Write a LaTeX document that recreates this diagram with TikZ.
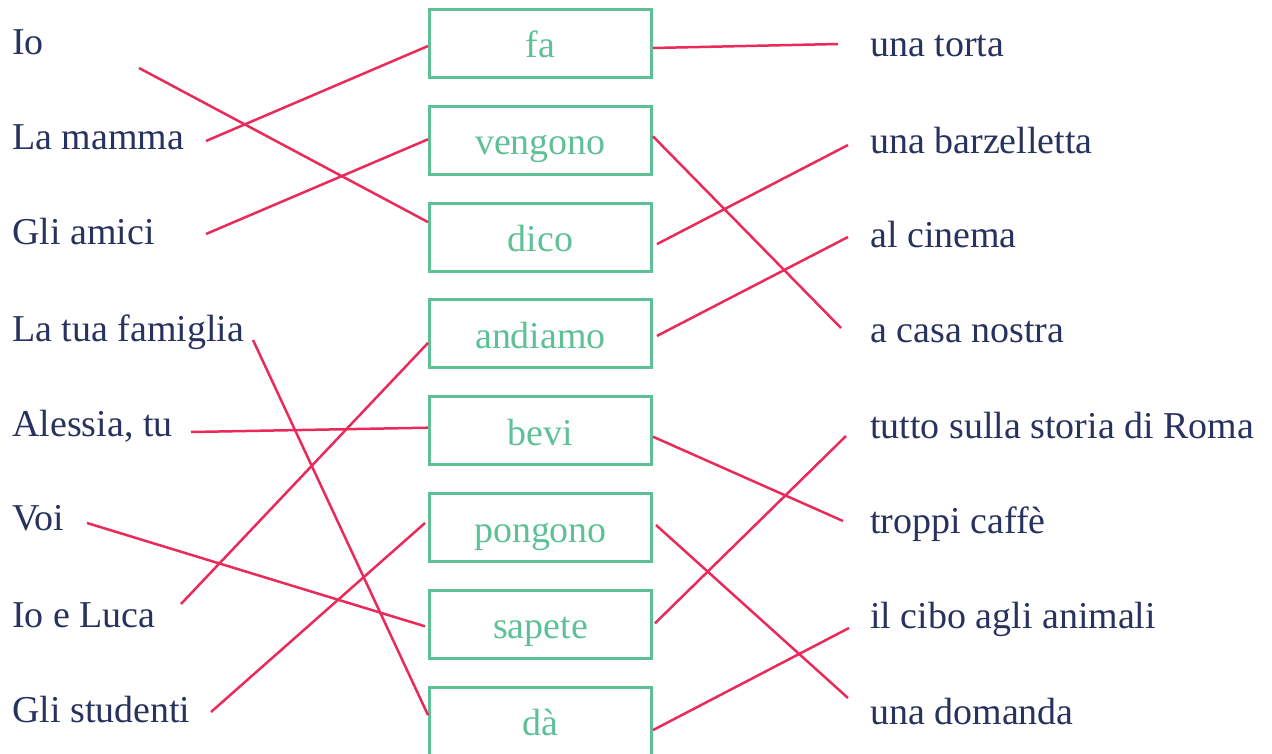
\documentclass[tikz,border=0pt]{standalone}
\usepackage{fontspec}
\setmainfont{Liberation Serif}
\usetikzlibrary{calc}
\definecolor{inkblue}{HTML}{28325F}
\definecolor{verbgreen}{HTML}{5EC196}
\definecolor{linkred}{HTML}{E92A5A}
\tikzset{
  phrase/.style={anchor=base west, inner sep=0pt, text=inkblue,
    font=\fontsize{21.6}{26}\selectfont},
  verbbox/.style={draw=verbgreen, line width=0.06cm, minimum width=4.44cm,
    minimum height=1.36cm, inner sep=0pt, text=verbgreen,
    text height=0.64cm, text depth=0.06cm, font=\fontsize{21.6}{26}\selectfont},
  link/.style={draw=linkred, line width=0.05cm},
}
\begin{document}
\begin{tikzpicture}[x=0.02cm, y=-0.02cm]
  \useasboundingbox (0,0) rectangle (1272,754);
  \clip (0,0) rectangle (1272,754);

  % Subjects
  \node[phrase] (io) at (12,54) {Io};
  \node[phrase] (mamma) at (12,149) {La mamma};
  \node[phrase] (amici) at (12,244) {Gli amici};
  \node[phrase] (famiglia) at (12,341) {La tua famiglia};
  \node[phrase] (alessia) at (12,436) {Alessia, tu};
  \node[phrase] (voi) at (12,530) {Voi};
  \node[phrase] (luca) at (12,627) {Io e Luca};
  \node[phrase] (studenti) at (12,722) {Gli studenti};

  % Verbs
  \node[verbbox] (fa) at (540.5,43.5) {fa};
  \node[verbbox] (vengono) at (540.5,140.3) {vengono};
  \node[verbbox] (dico) at (540.5,237.1) {dico};
  \node[verbbox] (andiamo) at (540.5,333.9) {andiamo};
  \node[verbbox] (bevi) at (540.5,430.7) {bevi};
  \node[verbbox] (pongono) at (540.5,527.5) {pongono};
  \node[verbbox] (sapete) at (540.5,624.3) {sapete};
  \node[verbbox] (da) at (540.5,721.1) {dà};

  % Complements
  \node[phrase] (torta) at (870,56) {una torta};
  \node[phrase] (barzelletta) at (870,153) {una barzelletta};
  \node[phrase] (cinema) at (870,247) {al cinema};
  \node[phrase] (casa) at (870,342) {a casa nostra};
  \node[phrase] (storia) at (870,438) {tutto sulla storia di Roma};
  \node[phrase] (caffe) at (870,533) {troppi caffè};
  \node[phrase] (cibo) at (870,628) {il cibo agli animali};
  \node[phrase] (domanda) at (870,724) {una domanda};

  % Free ends near the phrases
  \coordinate (io-end) at (139,68);
  \coordinate (mamma-end) at (206,141);
  \coordinate (amici-end) at (206,234);
  \coordinate (famiglia-end) at (253,340);
  \coordinate (alessia-end) at (191,432);
  \coordinate (voi-end) at (87,523);
  \coordinate (luca-end) at (181,604);
  \coordinate (studenti-end) at (211,712);
  \coordinate (torta-end) at (838,44);
  \coordinate (barzelletta-end) at (848,145);
  \coordinate (cinema-end) at (848,237);
  \coordinate (casa-end) at (841,328);
  \coordinate (storia-end) at (846,436);
  \coordinate (caffe-end) at (843,521);
  \coordinate (cibo-end) at (849,628);
  \coordinate (domanda-end) at (848,698);

  % Drawing lines subject -- verb
  \draw[link] (io-end) -- ($(dico.west)+(0,-15)$);
  \draw[link] (mamma-end) -- ($(fa.west)+(0,2.5)$);
  \draw[link] (amici-end) -- ($(vengono.west)+(0,-1)$);
  \draw[link] (famiglia-end) -- ($(da.west)+(0,-6)$);
  \draw[link] (alessia-end) -- ($(bevi.west)+(0,-3)$);
  \draw[link] (voi-end) -- ($(sapete.west)+(-3,2)$);
  \draw[link] (luca-end) -- ($(andiamo.west)+(0,9)$);
  \draw[link] (studenti-end) -- ($(pongono.west)+(-3,-4.5)$);

  % Drawing lines verb -- complement
  \draw[link] ($(fa.east)+(0,4.5)$) -- (torta-end);
  \draw[link] ($(vengono.east)+(0,-4)$) -- (casa-end);
  \draw[link] ($(dico.east)+(4,7)$) -- (barzelletta-end);
  \draw[link] ($(andiamo.east)+(4,2)$) -- (cinema-end);
  \draw[link] ($(bevi.east)+(0,6)$) -- (caffe-end);
  \draw[link] ($(pongono.east)+(3,-2.5)$) -- (domanda-end);
  \draw[link] ($(sapete.east)+(2,-1)$) -- (storia-end);
  \draw[link] ($(da.east)+(0,9)$) -- (cibo-end);
\end{tikzpicture}
\end{document}
